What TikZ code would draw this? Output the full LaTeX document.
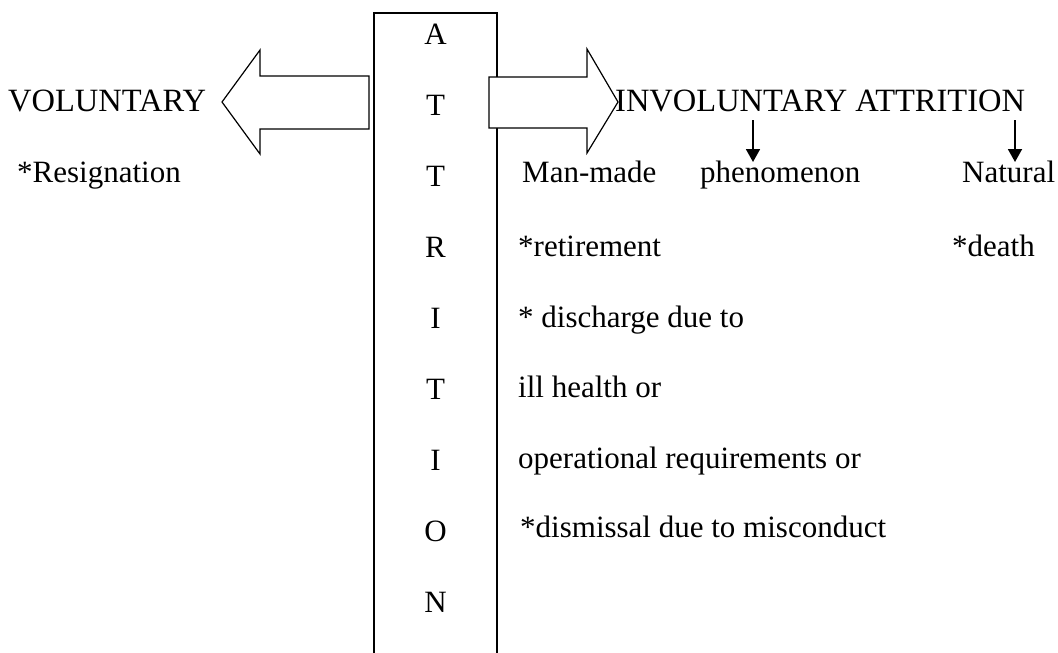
\documentclass[tikz,border=0pt]{standalone}
\usepackage{fontspec}
\setmainfont{Liberation Serif}
\usetikzlibrary{arrows.meta}
\begin{document}
\begin{tikzpicture}[x=1pt,y=1pt,
  txt/.style={inner sep=0pt,anchor=base west,font=\fontsize{31}{37}\selectfont},
  captxt/.style={inner sep=0pt,anchor=base west,font=\fontsize{32.5}{38}\selectfont},
  letter/.style={inner sep=0pt,anchor=base,font=\fontsize{31}{37}\selectfont},
  bigarrow/.style={draw=black,fill=white,line width=1.2pt,line join=miter},
  downarrow/.style={line width=1.8pt,-{Triangle[length=13pt,width=14pt]}}]
\useasboundingbox (0,0) rectangle (1058,-653);
% box
\draw[line width=2pt] (374,-653) -- (374,-13) -- (497,-13) -- (497,-653);
% letters
\foreach \l [count=\k] in {A,T,T,R,I,T,I,O,N}{
  \node[letter] (L\k) at (435.5,{-(44+71.1*(\k-1))}) {\l};
}
% big arrows
\draw[bigarrow] (369,-76) -- (260,-76) -- (260,-50) -- (222,-102) -- (260,-154) -- (260,-129) -- (369,-129) -- cycle;
\draw[bigarrow] (489,-77) -- (587,-77) -- (587,-49) -- (618,-102) -- (587,-153) -- (587,-128) -- (489,-128) -- cycle;
% texts
\node[captxt] (vol) at (8,-111) {VOLUNTARY};
\node[captxt] (invol) at (615,-111) {INVOLUNTARY ATTRITION};
\node[txt] (resig) at (17,-182) {*Resignation};
\node[txt] (man) at (522,-182) {Man-made};
\node[txt] (phen) at (700,-182) {phenomenon};
\node[txt] (nat) at (962,-182) {Natural};
\node[txt] (ret) at (518,-256) {*retirement};
\node[txt] (death) at (952,-256) {*death};
\node[txt] (dis) at (518,-327) {* discharge due to};
\node[txt] (ill) at (518,-397) {ill health or};
\node[txt] (op) at (518,-468) {operational requirements or};
\node[txt] (dism) at (520,-537) {*dismissal due to misconduct};
% down arrows
\coordinate (a1s) at (753,-120);
\coordinate (a1e) at (753,-162);
\coordinate (a2s) at (1015,-120);
\coordinate (a2e) at (1015,-162);
\draw[downarrow] (a1s) -- (a1e);
\draw[downarrow] (a2s) -- (a2e);
\end{tikzpicture}
\end{document}
